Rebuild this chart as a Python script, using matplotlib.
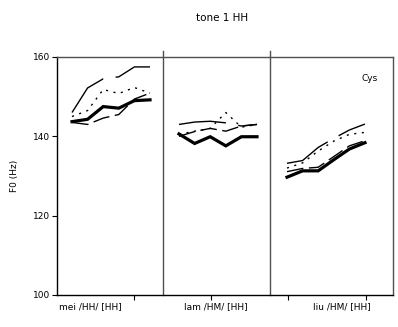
import numpy as np
import matplotlib
matplotlib.use("Agg")
import matplotlib.pyplot as plt

# F0 (Hz) per syllable, 6 time points each
syllables = ["mei /HH/ [HH]", "lam /HM/ [HH]", "liu /HM/ [HH]"]

longdash = [[146.0, 152.2, 154.5, 155.0, 157.5, 157.5],
            [143.0, 143.6, 143.8, 143.4, 142.6, 143.0],
            [133.2, 133.9, 137.2, 139.5, 141.6, 143.1]]
dotted = [[145.0, 146.5, 151.8, 150.8, 152.3, 150.9],
          [140.5, 141.3, 142.0, 146.0, 142.3, 143.0],
          [132.0, 133.3, 136.3, 138.8, 140.5, 141.0]]
meddash = [[143.5, 143.0, 144.6, 145.5, 149.4, 150.9],
           [140.0, 141.2, 142.0, 141.3, 142.6, 143.0],
           [131.1, 131.9, 132.2, 134.9, 137.6, 138.9]]
thick = [[143.7, 144.3, 147.5, 147.1, 149.0, 149.2],
         [140.6, 138.2, 139.9, 137.6, 139.9, 139.9],
         [129.7, 131.3, 131.3, 134.1, 136.8, 138.4]]

yticks = [100, 120, 140, 160]
xticks = [77, 154, 231, 309]
panel_start = [0, 106, 213]
point_offset = [15, 16, 17]
step = 15.6

fig = plt.figure(figsize=(3.98, 3.27), dpi=100)
ax = fig.add_axes([57/398, 32/327, 336/398, 238/327])
ax.set_xlim(0, 336)
ax.set_ylim(100, 160)

for s in range(3):
	x = panel_start[s] + point_offset[s] + step*np.arange(6)
	ax.plot(x, longdash[s], color='black', lw=1.0, dashes=(34, 9))
	ax.plot(x, dotted[s], color='black', lw=1.0, dashes=(1.5, 4))
	ax.plot(x, meddash[s], color='black', lw=1.0, dashes=(12, 4))
	ax.plot(x, thick[s], color='black', lw=2.3, solid_joinstyle='miter')

# panel separators
for xs in panel_start[1:]:
	ax.plot([xs, xs], [100, 161.5], color='#505050', lw=1.0, clip_on=False)

for side in ['top', 'right']:
	ax.spines[side].set_color('#505050')
ax.spines['left'].set_color('black')
ax.spines['bottom'].set_color('black')
for sp in ax.spines.values():
	sp.set_linewidth(1.0)

ax.set_yticks(yticks)
ax.set_xticks(xticks)
ax.set_xticklabels([])
ax.tick_params(axis='both', direction='out', length=3.5, width=0.8, labelsize=6.5, pad=1.5)

for s in range(3):
	xc = [33, 159, 285][s]
	ax.text(xc, 98.3, syllables[s], ha='center', va='top', fontsize=6.5)

ax.set_ylabel("F0 (Hz)", fontsize=6.5, labelpad=10)
ax.text(313, 154.5, "Cys", ha='center', va='center', fontsize=6.5)
fig.text(222/398, 1 - 18/327, "tone 1 HH", ha='center', va='center', fontsize=7.5)

plt.savefig("out.png", dpi=100)
